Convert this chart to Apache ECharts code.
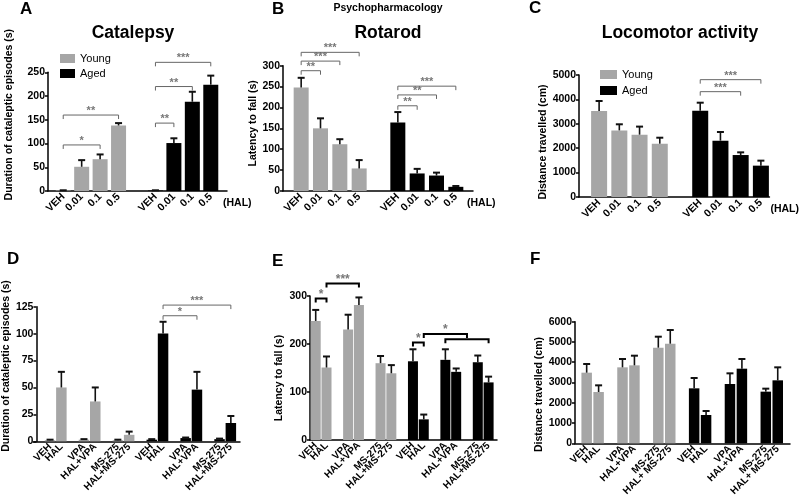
<!DOCTYPE html>
<html><head><meta charset="utf-8">
<script src="https://cdn.jsdelivr.net/npm/echarts@6/dist/echarts.min.js"></script>
<style>html,body{margin:0;padding:0;background:#fff}#c{width:800px;height:500px}</style>
</head><body><div id="c"></div>
<script>
// ---------------- DATA ----------------
const doseCats = ['VEH','0.01','0.1','0.5','','VEH','0.01','0.1','0.5'];
const treatCats = ['VEH','HAL','','VPA','HAL+VPA','','MS-275','HAL+MS-275','','VEH','HAL','','VPA','HAL+VPA','','MS-275','HAL+MS-275'];
const treatCatsF = ['VEH','HAL','','VPA','HAL+VPA','','MS-275','HAL+ MS-275','','VEH','HAL','','VPA','HAL+VPA','','MS-275','HAL+ MS-275'];

// A: Catalepsy (dose)
const catYTicks = [0,50,100,150,200,250];
const catYoungMean = [1, 51, 67, 138];
const catYoungErr  = [0.5, 14, 10, 5];
const catAgedMean  = [1, 101, 188, 224];
const catAgedErr   = [0.5, 10, 21, 19];
const catSig = [[0,2,97],[0,3,160],[5,6,143],[5,7,220],[5,8,271]];
const catSigLabels = ['*','**','**','**','***'];

// B: Rotarod (dose)
const rotYTicks = [0,50,100,150,200,250,300];
const rotYoungMean = [248, 150, 112, 54];
const rotYoungErr  = [23, 24, 12, 20];
const rotAgedMean  = [164, 42, 37, 10];
const rotAgedErr   = [25, 11, 7, 2];
const rotSig = [[0,1,288],[0,2,311],[0,3,332],[5,6,204],[5,7,230],[5,8,251]];
const rotSigLabels = ['**','***','***','**','**','***'];

// C: Locomotor activity (dose)
const locYTicks = [0,1000,2000,3000,4000,5000];
const locYoungMean = [3525, 2730, 2555, 2185];
const locYoungErr  = [410, 250, 330, 245];
const locAgedMean  = [3535, 2310, 1720, 1285];
const locAgedErr   = [330, 355, 110, 205];
const locSig = [[5,7,4317],[5,8,4809]];
const locSigLabels = ['***','***'];

// D: Catalepsy (treatments)
const cat2YTicks = [0,25,50,75,100,125];
const cat2YoungMean = [1, 50, 1.5, 37, 1, 6];
const cat2YoungErr  = [0.5, 14.5, 0.5, 13, 0.5, 3];
const cat2AgedMean  = [1.5, 100, 3, 48, 2, 17];
const cat2AgedErr   = [0.5, 11, 0.5, 16.5, 0.5, 6.5];
const cat2Sig = [[10,13,116.6],[10,16,126.5]];
const cat2SigLabels = ['*','***'];

// E: Rotarod (treatments)
const rot2YTicks = [0,100,200,300];
const rot2YoungMean = [248, 151, 230, 281, 160, 139];
const rot2YoungErr  = [23, 23, 31, 16, 15, 17];
const rot2AgedMean  = [164, 43, 167, 142, 162, 120];
const rot2AgedErr   = [25, 10, 22, 7, 14, 12];
const rot2Sig = [[0,1,295],[1,4,326],[9,10,203],[12,16,210],[10,14,221]];
const rot2SigLabels = ['*','***','*','','*'];

// F: Locomotor activity (treatments)
const loc2YTicks = [0,1000,2000,3000,4000,5000,6000];
const loc2YoungMean = [3485, 2531, 3748, 3847, 4718, 4915];
const loc2YoungErr  = [427, 329, 411, 476, 542, 674];
const loc2AgedMean  = [2712, 1397, 2926, 3682, 2548, 3107];
const loc2AgedErr   = [510, 198, 526, 477, 148, 641];
const loc2Sig = [];
const loc2SigLabels = [];

// ---------------- STYLE / LAYOUT ----------------
const FONT = '"Liberation Sans", Arial, Helvetica, sans-serif';
const GRAY = '#a6a6a6';
const thinBracket = {color:'#666', width:1, tick:4, labelColor:'#777', fontSize:11, labelGap:4};
const thickBracket = {color:'#000', width:2, tick:4, labelColor:'#777', fontSize:12, labelGap:4};

const grids=[], xAxes=[], yAxes=[], series=[];

function errRender(params, api){
  const x=api.value(0), m=api.value(1), e=api.value(2);
  const p0=api.coord([x,m]), p1=api.coord([x,m+e]);
  const cap=3.5;
  return {type:'group', children:[
    {type:'line', shape:{x1:p0[0],y1:p0[1],x2:p1[0],y2:p1[1]}, style:{stroke:'#111', lineWidth:1.6}},
    {type:'line', shape:{x1:p1[0]-cap,y1:p1[1],x2:p1[0]+cap,y2:p1[1]}, style:{stroke:'#111', lineWidth:2}}
  ]};
}
function bracketRender(labels, st){
  return function(params, api){
    const a=api.value(0), b=api.value(1), y=api.value(2);
    const pa=api.coord([a,y]), pb=api.coord([b,y]);
    const t=st.tick;
    const children=[{type:'polyline', shape:{points:[[pa[0],pa[1]+t],[pa[0],pa[1]],[pb[0],pb[1]],[pb[0],pb[1]+t]]},
      style:{stroke:st.color, lineWidth:st.width, fill:null}}];
    const lab=labels[params.dataIndex];
    if(lab) children.push({type:'text', x:(pa[0]+pb[0])/2, y:pa[1]-st.labelGap,
      style:{text:lab, fill:st.labelColor, fontSize:st.fontSize, fontFamily:FONT, fontWeight:'bold', align:'center', verticalAlign:'middle'}});
    return {type:'group', children};
  };
}

function addPanel(p){
  const gi=grids.length;
  const h=p.y0-p.top;
  grids.push({left:p.gL, top:p.top, width:p.gR-p.gL, height:h});
  grids.push({left:p.yX, top:p.top, width:p.axEnd-p.yX, height:h});
  xAxes.push({gridIndex:gi, type:'category', data:p.cats, axisLine:{show:false}, axisTick:{show:false},
    axisLabel:{interval:0, rotate:45, margin:4, fontSize:p.xFont, fontWeight:'bold', color:'#000', fontFamily:FONT}});
  xAxes.push({gridIndex:gi+1, type:'value', min:0, max:1, axisLine:{show:true, lineStyle:{color:'#000', width:1.5}},
    axisTick:{show:false}, axisLabel:{show:false}, splitLine:{show:false},
    name:p.xName||'', nameLocation:'end', nameGap:p.xNameGap||0,
    nameTextStyle:{fontSize:10.5, fontWeight:'bold', color:'#000', fontFamily:FONT, align:'left', verticalAlign:'top', padding:[7,0,0,0]}});
  const tk=p.ticks;
  yAxes.push({gridIndex:gi, type:'value', min:tk[0], max:tk[tk.length-1], interval:tk[1]-tk[0], offset:p.gL-p.yX,
    axisLine:{show:true, lineStyle:{color:'#000', width:1.5}},
    axisTick:{show:true, length:3, lineStyle:{color:'#000', width:1.5}},
    axisLabel:{fontSize:10.5, fontWeight:'bold', color:'#000', margin:3, fontFamily:FONT, formatter:(v)=>String(v)},
    splitLine:{show:false},
    name:p.yName, nameLocation:'middle', nameGap:p.yNameGap,
    nameTextStyle:{fontSize:10.5, fontWeight:'bold', color:'#000', fontFamily:FONT, padding:p.yNamePad}});
  yAxes.push({gridIndex:gi+1, type:'value', show:false, min:0, max:1});

  const slots=[]; p.cats.forEach((c,i)=>{ if(c!=='') slots.push(i); });
  const half=slots.length/2;
  const ySlots=slots.slice(0,half), aSlots=slots.slice(half);
  const yd=p.cats.map(()=>'-'), ad=p.cats.map(()=>'-');
  ySlots.forEach((s,k)=>{ yd[s]=p.youngMean[k]; });
  aSlots.forEach((s,k)=>{ ad[s]=p.agedMean[k]; });
  const err=[];
  ySlots.forEach((s,k)=>err.push([s,p.youngMean[k],p.youngErr[k]]));
  aSlots.forEach((s,k)=>err.push([s,p.agedMean[k],p.agedErr[k]]));
  series.push({type:'bar', name:'Young', xAxisIndex:gi, yAxisIndex:gi, data:yd, barWidth:p.barW, barGap:'-100%', itemStyle:{color:GRAY}, silent:true});
  series.push({type:'bar', name:'Aged', xAxisIndex:gi, yAxisIndex:gi, data:ad, barWidth:p.barW, barGap:'-100%', itemStyle:{color:'#000'}, silent:true});
  series.push({type:'custom', xAxisIndex:gi, yAxisIndex:gi, data:err, encode:{x:0,y:1}, renderItem:errRender, z:5, silent:true});
  if(p.sig.length) series.push({type:'custom', xAxisIndex:gi, yAxisIndex:gi, data:p.sig, encode:{x:0,y:2}, clip:false,
    renderItem:bracketRender(p.sigLabels, p.bst), z:6, silent:true});
}

addPanel({cats:doseCats, ticks:catYTicks, youngMean:catYoungMean, youngErr:catYoungErr, agedMean:catAgedMean, agedErr:catAgedErr,
  sig:catSig, sigLabels:catSigLabels, bst:thinBracket,
  yX:48, gL:54, gR:220, axEnd:227, top:72.3, y0:191, barW:15, xFont:10.5,
  yName:'Duration of cataleptic episodes (s)', yNameGap:33, yNamePad:[0,0,0,34], xName:'(HAL)', xNameGap:-4});
addPanel({cats:doseCats, ticks:rotYTicks, youngMean:rotYoungMean, youngErr:rotYoungErr, agedMean:rotAgedMean, agedErr:rotAgedErr,
  sig:rotSig, sigLabels:rotSigLabels, bst:thinBracket,
  yX:283, gL:291.5, gR:465.5, axEnd:473, top:65.7, y0:191, barW:15, xFont:10.5,
  yName:'Latency to fall (s)', yNameGap:22, yNamePad:[0,0,0,10], xName:'(HAL)', xNameGap:-6});
addPanel({cats:doseCats, ticks:locYTicks, youngMean:locYoungMean, youngErr:locYoungErr, agedMean:locAgedMean, agedErr:locAgedErr,
  sig:locSig, sigLabels:locSigLabels, bst:thinBracket,
  yX:579, gL:589, gR:771, axEnd:771, top:75, y0:197, barW:16, xFont:10.5,
  yName:'Distance travelled (cm)', yNameGap:30, yNamePad:[0,12,0,0], xName:'(HAL)', xNameGap:1});
addPanel({cats:treatCats, ticks:cat2YTicks, youngMean:cat2YoungMean, youngErr:cat2YoungErr, agedMean:cat2AgedMean, agedErr:cat2AgedErr,
  sig:cat2Sig, sigLabels:cat2SigLabels, bst:thinBracket,
  yX:33, gL:41, gR:236.5, axEnd:240, top:306.7, y0:441.3, barW:10.5, xFont:10,
  yName:'Duration of cataleptic episodes (s)', yNameGap:18, yNamePad:[0,0,0,16]});
addPanel({cats:treatCats, ticks:rot2YTicks, youngMean:rot2YoungMean, youngErr:rot2YoungErr, agedMean:rot2AgedMean, agedErr:rot2AgedErr,
  sig:rot2Sig, sigLabels:rot2SigLabels, bst:thickBracket,
  yX:310, gL:310.3, gR:494, axEnd:497, top:296, y0:440, barW:10, xFont:10,
  yName:'Latency to fall (s)', yNameGap:25, yNamePad:[0,20,0,0]});
addPanel({cats:treatCatsF, ticks:loc2YTicks, youngMean:loc2YoungMean, youngErr:loc2YoungErr, agedMean:loc2AgedMean, agedErr:loc2AgedErr,
  sig:loc2Sig, sigLabels:loc2SigLabels, bst:thinBracket,
  yX:575, gL:580.7, gR:783.7, axEnd:790, top:321.7, y0:443.3, barW:10.5, xFont:10,
  yName:'Distance travelled (cm)', yNameGap:29, yNamePad:[0,24,0,0]});

function ttl(text, left, top, size, align){
  return {text, left, top, padding:0, textAlign:align||'left', textVerticalAlign:'top',
    textStyle:{fontSize:size, fontWeight:'bold', color:'#000', fontFamily:FONT}};
}
const titles=[
  ttl('A',20,1,17), ttl('B',272,1,17), ttl('C',529,0,17),
  ttl('D',7,251,17), ttl('E',272,253,17), ttl('F',530,251,17),
  ttl('Catalepsy',133,24,17.5,'center'), ttl('Psychopharmacology',388,3,10.5,'center'),
  ttl('Rotarod',388,24,17.5,'center'), ttl('Locomotor activity',680,24,17.5,'center')
];
const legendStyle={fontSize:11, color:'#000', fontFamily:FONT};
const legends=[
  {left:60, top:53, orient:'vertical', itemWidth:15, itemHeight:9, itemGap:4, icon:'rect', padding:0, selectedMode:false, data:['Young','Aged'], textStyle:legendStyle},
  {left:600, top:69, orient:'vertical', itemWidth:17, itemHeight:9, itemGap:5, icon:'rect', padding:0, selectedMode:false, data:['Young','Aged'], textStyle:legendStyle}
];

const chart=echarts.init(document.getElementById('c'), null, {renderer:'canvas'});
chart.setOption({animation:false, backgroundColor:'#fff', title:titles, legend:legends, grid:grids, xAxis:xAxes, yAxis:yAxes, series});
</script></body></html>
